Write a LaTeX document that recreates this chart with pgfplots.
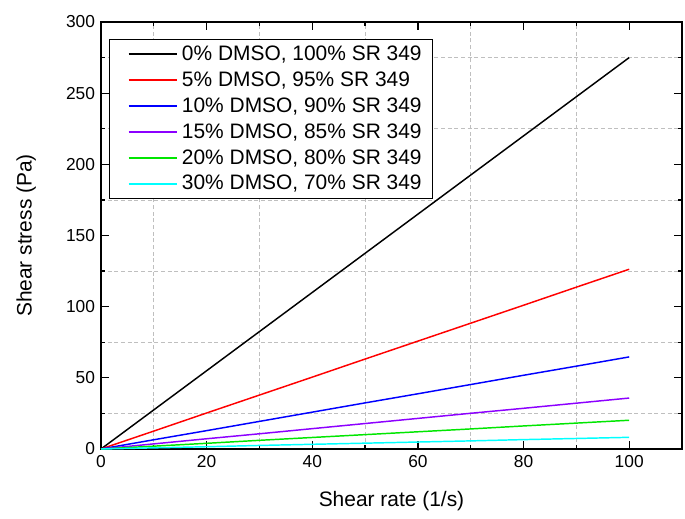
\documentclass[border=0pt]{standalone}
\usepackage{pgfplots}
\pgfplotsset{compat=1.18}
\usepackage{fontspec}
\setmainfont{Liberation Sans}
\definecolor{cpurple}{RGB}{140,0,255}
\definecolor{cgreen}{RGB}{0,230,0}
\definecolor{ccyan}{RGB}{0,255,255}
\begin{document}
\begin{tikzpicture}
\begin{axis}[
  width=435.75pt, height=320.25pt, scale only axis,
  xmin=0, xmax=110, ymin=0, ymax=300,
  xtick={0,20,...,100}, ytick={0,50,...,300},
  minor xtick={10,30,...,110}, minor ytick={25,75,...,275},
  grid=minor,
  minor grid style={densely dashed, gray!50, line width=0.5pt},
  tick align=inside, tick pos=both,
  major tick length=6pt, minor tick length=3pt,
  tick style={black, line width=0.9pt},
  axis line style={line width=1.3pt},
  /pgf/number format/assume math mode=true,
  ticklabel style={font=\fontsize{13}{15}\selectfont},
  xticklabel style={yshift=-1pt},
  yticklabel style={xshift=-1pt},
  xlabel={Shear rate (1/s)}, ylabel={Shear stress (Pa)},
  label style={font=\fontsize{15.7}{18}\selectfont},
  xlabel style={at={([yshift=-43.3pt]axis description cs:0.5,0)}, anchor=base},
  ylabel style={at={([xshift=-52pt]axis description cs:0,0.5)}, anchor=base},
  legend style={at={([xshift=6pt,yshift=-12.75pt]axis description cs:0,1)}, anchor=north west, draw=black, line width=0.75pt,
    fill=white, font=\fontsize{15.7}{19.5}\selectfont, row sep=2.9pt,
    inner xsep=6pt, inner ysep=3pt},
  legend cell align=left,
  legend image code/.code={\path (-7.75pt,0pt) (37.5pt,0pt);\draw[#1, line width=1.5pt] (0pt,0pt) -- (36pt,0pt);},
  every axis plot/.append style={line width=1.1pt},
]
\addplot[black] coordinates {(0,0) (10,27.5) (20,55) (30,82.5) (40,110) (50,137.5) (60,165) (70,192.5) (80,220) (90,247.5) (100,275)};
\addlegendentry{0\% DMSO, 100\% SR 349}
\addplot[red] coordinates {(0,0) (10,12.6) (20,25.3) (30,37.9) (40,50.5) (50,63.2) (60,75.8) (70,88.4) (80,101) (90,113.7) (100,126.3)};
\addlegendentry{5\% DMSO, 95\% SR 349}
\addplot[blue] coordinates {(0,0) (10,6.5) (20,12.9) (30,19.4) (40,25.9) (50,32.4) (60,38.8) (70,45.3) (80,51.8) (90,58.2) (100,64.7)};
\addlegendentry{10\% DMSO, 90\% SR 349}
\addplot[cpurple] coordinates {(0,0) (10,3.6) (20,7.2) (30,10.7) (40,14.3) (50,17.9) (60,21.5) (70,25.1) (80,28.6) (90,32.2) (100,35.8)};
\addlegendentry{15\% DMSO, 85\% SR 349}
\addplot[cgreen] coordinates {(0,0) (10,2) (20,4) (30,6.1) (40,8.1) (50,10.1) (60,12.1) (70,14.1) (80,16.2) (90,18.2) (100,20.2)};
\addlegendentry{20\% DMSO, 80\% SR 349}
\addplot[ccyan] coordinates {(0,0) (10,0.8) (20,1.6) (30,2.5) (40,3.3) (50,4.1) (60,4.9) (70,5.7) (80,6.6) (90,7.4) (100,8.2)};
\addlegendentry{30\% DMSO, 70\% SR 349}
\end{axis}
\pgfresetboundingbox
\path (current axis.south west) +(-75.75pt,-51.75pt) (current axis.north east) +(2.25pt,16.5pt);
\end{tikzpicture}
\end{document}
